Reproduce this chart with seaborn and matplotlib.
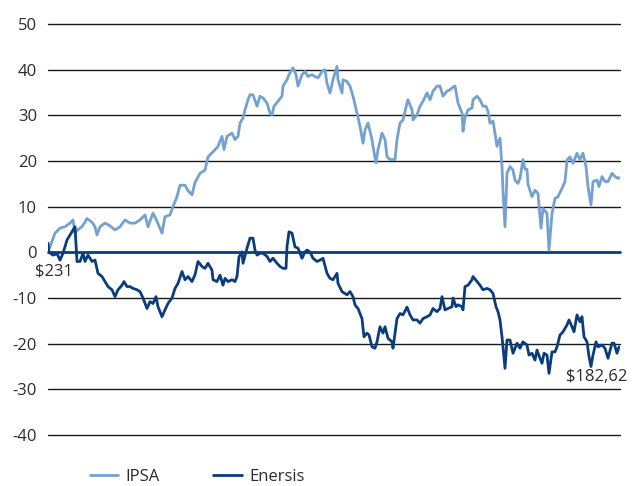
import matplotlib
matplotlib.use("Agg")
import matplotlib.pyplot as plt
import seaborn as sns

sns.set_style("white")
plt.rcParams['font.family'] = ['Open Sans', 'DejaVu Sans']

# trading-day index vs. % change
ipsa_day = [0, 2, 7, 12, 17, 22, 25, 27, 30, 34, 39, 44, 47, 49, 52, 57, 62, 67, 72, 77,
            82, 87, 92, 97, 100, 105, 109, 114, 117, 122, 125, 129, 132, 137, 140, 144, 147,
            152, 157, 160, 165, 170, 174, 176, 179, 184, 187, 190, 192, 195, 197, 200, 202,
            205, 209, 212, 215, 219, 222, 224, 226, 230, 234, 235, 239, 241, 245, 248, 250,
            254, 257, 260, 264, 267, 270, 274, 277, 279, 282, 285, 289, 290, 294, 295, 299,
            302, 305, 309, 312, 315, 317, 320, 324, 325, 328, 330, 334, 337, 339, 342, 345,
            347, 349, 352, 355, 359, 360, 364, 365, 369, 372, 375, 379, 382, 385, 389, 392,
            395, 399, 402, 405, 407, 410, 414, 415, 417, 420, 424, 425, 429, 432, 435, 438,
            440, 442, 445, 447, 449, 452, 454, 455, 457, 459, 462, 465, 467, 470, 472, 475,
            477, 479, 480, 484, 487, 490, 493, 495, 499, 501, 504, 507, 510, 514, 517, 519,
            522, 525, 529, 532, 535, 538, 540, 543, 545, 549, 551, 554, 557, 560, 564, 567,
            570, 572]
ipsa_val = [0.5, 1.2, 4.2, 5.3, 5.6, 6.4, 7.1, 4.2, 5.0, 5.6, 7.4, 6.6, 5.6, 3.8, 5.6, 6.4,
            5.8, 4.9, 5.6, 7.1, 6.4, 6.4, 7.1, 8.2, 5.6, 8.6, 6.8, 4.2, 7.8, 8.2, 10.0, 12.2,
            14.7, 14.7, 13.5, 12.6, 15.3, 17.3, 18.0, 20.9, 22.0, 23.2, 25.4, 22.5, 25.4,
            26.1, 24.7, 25.4, 28.3, 29.4, 31.2, 33.4, 34.5, 34.5, 32.0, 34.2, 33.8, 32.7,
            30.5, 30.1, 32.0, 33.1, 34.2, 36.4, 37.8, 38.9, 40.4, 38.9, 36.4, 38.9, 39.6,
            38.5, 38.9, 38.5, 38.2, 39.6, 40.0, 37.0, 34.9, 37.8, 40.7, 37.8, 34.9, 37.8,
            37.4, 36.4, 34.2, 30.5, 27.6, 23.9, 26.8, 28.3, 24.7, 23.2, 19.6, 22.5, 26.1,
            24.7, 21.0, 20.3, 20.3, 20.3, 24.7, 28.3, 29.0, 32.7, 33.4, 31.2, 29.0, 30.1,
            32.0, 33.1, 34.9, 33.4, 35.3, 36.4, 36.4, 34.2, 35.3, 35.6, 36.2, 36.4, 32.7,
            30.5, 26.5, 29.4, 31.2, 31.6, 33.4, 34.2, 33.4, 32.0, 32.0, 30.9, 28.3, 28.7,
            26.1, 23.2, 25.0, 18.8, 13.3, 5.6, 17.3, 18.8, 18.0, 15.8, 15.1, 16.2, 20.3,
            18.2, 18.2, 14.9, 12.2, 13.6, 12.9, 5.3, 9.6, 8.5, 0.5, 8.5, 11.8, 12.2, 14.0,
            15.5, 20.2, 20.9, 19.5, 21.7, 20.3, 21.7, 18.8, 14.4, 10.4, 15.5, 15.8, 14.4,
            16.6, 15.5, 15.5, 17.3, 16.6, 16.2, 16.4]

enersis_day = [0, 1, 5, 9, 12, 15, 19, 22, 25, 27, 29, 32, 35, 37, 40, 44, 47, 50, 54, 57,
               60, 64, 67, 70, 74, 76, 79, 82, 85, 89, 92, 95, 99, 102, 105, 108, 110, 114,
               117, 120, 124, 127, 130, 134, 137, 140, 144, 147, 150, 154, 157, 160, 164,
               165, 169, 172, 175, 177, 180, 184, 187, 189, 191, 194, 195, 199, 202, 205,
               207, 209, 212, 215, 219, 222, 225, 229, 232, 235, 238, 239, 241, 244, 247,
               250, 254, 257, 259, 262, 265, 269, 272, 275, 279, 282, 285, 289, 290, 294,
               299, 302, 305, 307, 310, 314, 316, 319, 321, 324, 327, 329, 332, 335, 337,
               340, 344, 345, 349, 352, 355, 359, 362, 365, 369, 372, 375, 379, 382, 385,
               389, 392, 394, 397, 400, 404, 405, 408, 410, 414, 415, 417, 420, 424, 425,
               429, 432, 435, 439, 442, 445, 448, 450, 452, 454, 455, 457, 459, 462, 465,
               469, 472, 475, 479, 481, 484, 487, 489, 492, 494, 496, 499, 501, 504, 507,
               509, 512, 515, 519, 521, 524, 526, 529, 532, 534, 536, 539, 541, 543, 545,
               548, 550, 554, 557, 560, 564, 566, 569, 571]
enersis_val = [2.0, 0.0, -0.6, -0.3, -1.7, -0.2, 2.7, 3.8, 4.9, 5.6, -2.0, -2.0, -0.2, -2.0,
               -0.6, -2.0, -1.7, -4.6, -5.3, -6.4, -7.5, -8.2, -9.7, -8.2, -7.2, -6.4, -7.5,
               -7.5, -7.9, -8.2, -8.6, -10.0, -12.3, -10.8, -11.2, -9.7, -11.9, -14.1,
               -12.6, -11.2, -10.0, -7.9, -6.8, -4.2, -6.0, -5.3, -6.4, -4.9, -2.0, -3.1,
               -3.5, -2.4, -3.9, -6.0, -6.4, -5.0, -7.2, -5.7, -6.4, -6.0, -6.4, -5.3, -1.0,
               0.1, -2.4, 0.9, 3.1, 3.1, 0.5, -0.6, -0.2, -0.2, -0.9, -2.0, -1.3, -2.4, -3.1,
               -3.5, -3.5, 1.2, 4.5, 4.2, 1.2, 0.9, -1.3, 0.1, 0.5, 0.1, -1.3, -2.0, -1.7,
               -1.3, -4.6, -5.7, -6.0, -4.6, -6.8, -8.6, -9.3, -8.6, -9.7, -11.5, -12.3,
               -14.5, -18.5, -17.7, -18.1, -20.7, -21.0, -19.6, -16.3, -17.7, -16.3, -18.8,
               -19.6, -21.0, -14.5, -13.4, -13.7, -12.0, -13.7, -14.8, -14.8, -15.5, -14.5,
               -14.1, -13.7, -12.3, -13.0, -12.3, -9.7, -12.6, -12.3, -11.9, -10.0, -11.9,
               -11.5, -11.9, -12.6, -7.5, -7.2, -6.0, -5.3, -6.4, -7.2, -8.2, -7.9, -8.2,
               -9.0, -11.9, -13.0, -14.8, -18.5, -20.7, -25.4, -19.2, -19.2, -22.1, -19.9,
               -21.0, -19.6, -20.3, -22.5, -22.1, -23.6, -21.4, -23.2, -24.3, -22.1, -22.5,
               -26.5, -21.8, -21.8, -20.7, -18.1, -17.4, -15.9, -14.8, -16.3, -17.4, -13.7,
               -15.2, -14.1, -18.5, -19.6, -22.8, -25.0, -22.5, -19.6, -20.7, -20.3, -21.0,
               -23.2, -19.9, -19.9, -22.1, -20.7]

y_ticks = [50, 40, 30, 20, 10, 0, -10, -20, -30, -40]
start_label = "$231"
end_label = "$182,62"

ipsa_color = '#74a1d0'
enersis_color = '#0b3c7c'

fig = plt.figure(figsize=(6.39, 4.86), dpi=100)
ax = fig.add_axes([48 / 639, 1 - 435 / 486, 572 / 639, 411 / 486])

for t in y_ticks:
    if t == 0:
        continue
    ax.axhline(t, color='#1a1a1a', lw=1.0, zorder=1, clip_on=False)

sns.lineplot(x=ipsa_day, y=ipsa_val, ax=ax, color=ipsa_color, lw=2.0, label='IPSA', zorder=3)
sns.lineplot(x=enersis_day, y=enersis_val, ax=ax, color=enersis_color, lw=2.0,
             label='Enersis', zorder=4)
ax.axhline(0, color=enersis_color, lw=2.0, zorder=2, clip_on=False)

ax.set_xlim(0, 572)
ax.set_ylim(-40, 50)
ax.set_xticks([])
ax.set_yticks(y_ticks)
ax.set_yticklabels([str(t) for t in y_ticks])
ax.tick_params(axis='y', length=0, pad=8, labelsize=12, labelcolor='#2b2b2b')
for s in ax.spines.values():
    s.set_visible(False)
ax.set_xlabel('')
ax.set_ylabel('')

ax.text(25, -4.2, start_label, ha='right', va='center', fontsize=12, color='#2b2b2b')
ax.text(579, -27.4, end_label, ha='right', va='center', fontsize=12, color='#2b2b2b',
        clip_on=False)

handles, labels = ax.get_legend_handles_labels()
ax.get_legend().remove()
fig.legend(handles, labels, loc='center left', bbox_to_anchor=(90 / 639, 1 - 477 / 486),
           ncol=2, frameon=False, fontsize=12, handlelength=1.7, handletextpad=0.45,
           columnspacing=3.2, borderpad=0, borderaxespad=0, labelcolor='#2b2b2b')

fig.savefig('out.png', dpi=100)
